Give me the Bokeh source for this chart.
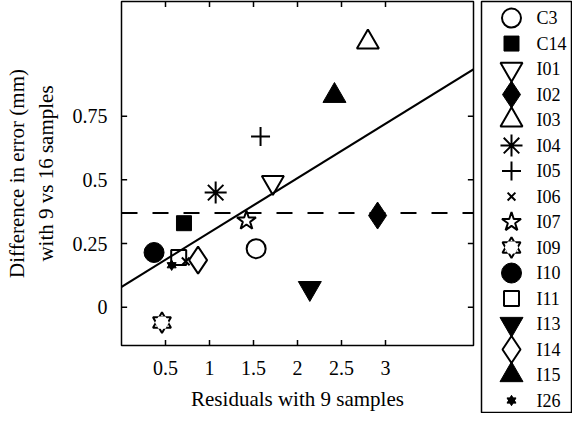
from bokeh.plotting import figure
from bokeh.models import Range1d, FixedTicker, ColumnDataSource, Span, Slope
from bokeh.layouts import row, column
from bokeh.core.properties import value
from bokeh.embed import file_html
from bokeh.resources import INLINE

# ---------------- data ----------------
labels = ["C3", "C14", "I01", "I02", "I03", "I04", "I05", "I06",
          "I07", "I09", "I10", "I11", "I13", "I14", "I15", "I26"]
resid_9 = [1.53, 0.71, 1.72, 2.91, 2.80, 1.07, 1.58, 0.73,
           1.42, 0.46, 0.37, 0.65, 2.14, 0.87, 2.42, 0.57]
diff_err = [0.23, 0.33, 0.49, 0.36, 1.04, 0.45, 0.67, 0.18,
            0.34, -0.06, 0.215, 0.195, 0.075, 0.185, 0.83, 0.165]
fit_intercept = 0.08
fit_slope = 0.2135
mean_diff = 0.37
x_ticks = [0.5, 1, 1.5, 2, 2.5, 3]
x_tick_labels = ["0.5", "1", "1.5", "2", "2.5", "3"]
y_ticks = [0, 0.25, 0.5, 0.75]
y_tick_labels = ["0", "0.25", "0.5", "0.75"]
x_title = "Residuals with 9 samples"
y_title = "Difference in error (mm)\nwith 9 vs 16 samples"

# ---------------- styles ----------------
STYLE = {
    "C3": ("circle", False, 19),
    "C14": ("square", True, 15),
    "I01": ("inverted_triangle", False, 22),
    "I02": ("diamond", True, 27),
    "I03": ("triangle", False, 22),
    "I04": ("asterisk", False, 22),
    "I05": ("cross", False, 19),
    "I06": ("x", False, 11),
    "I07": ("star", False, 20),
    "I09": ("hexagram", False, 18),
    "I10": ("circle", True, 20),
    "I11": ("square", False, 15),
    "I13": ("inverted_triangle", True, 23),
    "I14": ("diamond", False, 27),
    "I15": ("triangle", True, 23),
    "I26": ("hexagram", True, 9),
}
FONT = "Liberation Serif"
LW = 2
TICK_FRAC = 0.016  # tick length as a fraction of the axis span (MATLAB style)


def draw_marker(fig, src, kind, filled, size):
    if kind == "hexagram":
        fill = "black" if filled else "white"
        lw = 1 if size < 12 else LW
        for m in ("triangle", "inverted_triangle"):
            fig.scatter("x", "y", source=src, marker=m, size=size,
                        fill_color=fill, line_color="black", line_width=lw)
        if not filled:
            fig.scatter("x", "y", source=src, marker="hex", size=2 * size / 3 + 2,
                        fill_color="white", line_color=None)
        return
    if filled:
        fig.scatter("x", "y", source=src, marker=kind, size=size,
                    fill_color="black", line_color="black", line_width=1)
    else:
        fig.scatter("x", "y", source=src, marker=kind, size=size,
                    fill_alpha=0, line_color="black", line_width=LW)


# ---------------- main plot ----------------
x_rng = Range1d(0, 4)
y_rng = Range1d(-0.15, 1.2)
p = figure(width=480, height=413, x_range=x_rng, y_range=y_rng,
           output_backend="svg", toolbar_location=None,
           min_border_left=121, min_border_right=7, min_border_top=1, min_border_bottom=66)
p.grid.visible = False
p.outline_line_color = "black"
p.outline_line_width = 1.5
p.background_fill_color = "white"
p.border_fill_color = "white"

p.xaxis.ticker = FixedTicker(ticks=x_ticks)
p.xaxis.major_label_overrides = dict(zip(x_ticks, x_tick_labels))
p.yaxis.ticker = FixedTicker(ticks=y_ticks)
p.yaxis.major_label_overrides = dict(zip(y_ticks, y_tick_labels))
p.xaxis.axis_label = x_title
p.yaxis.axis_label = y_title

for ax in (p.xaxis[0], p.yaxis[0]):
    ax.major_tick_in = 0
    ax.major_tick_out = 0
    ax.major_tick_line_color = None
    ax.minor_tick_line_color = None
    ax.axis_line_color = None
    ax.major_label_text_font = FONT
    ax.major_label_text_font_size = "20px"
    ax.major_label_text_color = "black"
    ax.axis_label_text_font = FONT
    ax.axis_label_text_font_size = "21px"
    ax.axis_label_text_font_style = "normal"
    ax.axis_label_text_color = "black"
p.xaxis.major_label_standoff = 15
p.xaxis.axis_label_standoff = 9
p.yaxis.major_label_standoff = 14
p.yaxis.axis_label_standoff = 12

# inward tick marks on all four sides, as segments inside the frame
ly = TICK_FRAC * (y_rng.end - y_rng.start)
lx = TICK_FRAC * (x_rng.end - x_rng.start)
for y0, d in ((y_rng.start, ly), (y_rng.end, -ly)):
    p.segment(x0=x_ticks, y0=[y0] * len(x_ticks), x1=x_ticks, y1=[y0 + d] * len(x_ticks),
              line_color="black", line_width=1.5)
for x0, d in ((x_rng.start, lx), (x_rng.end, -lx)):
    p.segment(x0=[x0] * len(y_ticks), y0=y_ticks, x1=[x0 + d] * len(y_ticks), y1=y_ticks,
              line_color="black", line_width=1.5)

p.add_layout(Span(location=mean_diff, dimension="width", line_color="black",
                  line_width=2, line_dash="16 15"))
p.add_layout(Slope(gradient=fit_slope, y_intercept=fit_intercept,
                   line_color="black", line_width=2))

for i, lab in enumerate(labels):
    kind, filled, size = STYLE[lab]
    src = ColumnDataSource(dict(x=[resid_9[i]], y=[diff_err[i]]))
    draw_marker(p, src, kind, filled, size)

# ---------------- legend panel ----------------
n = len(labels)
q = figure(width=92, height=413, x_range=Range1d(0, 90), y_range=Range1d(n - 1 + 0.47, -0.65),
           x_axis_type=None, y_axis_type=None, output_backend="svg", toolbar_location=None,
           min_border_left=1, min_border_right=1, min_border_top=1, min_border_bottom=1)
q.outline_line_color = "black"
q.outline_line_width = 1.5
q.background_fill_color = "white"
q.border_fill_color = "white"

for i, lab in enumerate(labels):
    kind, filled, size = STYLE[lab]
    src = ColumnDataSource(dict(x=[30], y=[i]))
    draw_marker(q, src, kind, filled, size)

q.text(x="x", y="y", text="t",
       source=ColumnDataSource(dict(x=[55] * n, y=list(range(n)), t=labels)),
       text_font=value(FONT), text_font_size="18px", text_baseline="middle",
       text_align="left", text_color="black")

layout = row(column(p), column(q))
open("out.html", "w").write(file_html(layout, INLINE))
